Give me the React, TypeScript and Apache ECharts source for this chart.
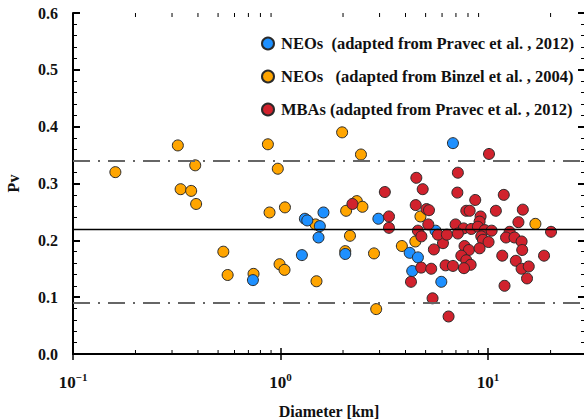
import React, { useEffect, useRef } from "react";
import * as echarts from "echarts";

// NEOs (adapted from Pravec et al., 2012): [diameter km, pV]
const neoPravec: [number, number][] = [
  [1.31, 0.238], [1.345, 0.235], [1.546, 0.225], [1.61, 0.249], [1.524, 0.205],
  [1.267, 0.174], [0.736, 0.13], [2.05, 0.176], [2.96, 0.238], [4.19, 0.178],
  [4.59, 0.17], [4.31, 0.146], [5.95, 0.127], [5.58, 0.217], [6.77, 0.371],
];

// NEOs (adapted from Binzel et al., 2004)
const neoBinzel: [number, number][] = [
  [0.16, 0.32], [0.32, 0.367], [0.388, 0.332], [0.33, 0.29], [0.371, 0.287],
  [0.392, 0.264], [0.869, 0.369], [0.97, 0.326], [0.885, 0.249], [1.05, 0.258],
  [0.53, 0.18], [0.556, 0.139], [0.741, 0.141], [0.989, 0.158], [1.045, 0.148],
  [1.475, 0.228], [1.49, 0.128], [1.98, 0.39], [2.44, 0.351], [2.33, 0.269],
  [2.48, 0.259], [2.07, 0.252], [2.16, 0.208], [2.05, 0.181], [2.82, 0.177],
  [2.89, 0.079], [3.84, 0.19], [4.46, 0.198], [4.72, 0.242], [16.9, 0.229],
];

// MBAs (adapted from Pravec et al., 2012)
const mbaPravec: [number, number][] = [
  [10.1, 0.352], [4.51, 0.31], [3.18, 0.285], [4.84, 0.29], [7.15, 0.319],
  [7.11, 0.284], [11.9, 0.28], [8.67, 0.271], [2.22, 0.264], [3.33, 0.242],
  [3.33, 0.222], [4.48, 0.262], [5.05, 0.255], [5.19, 0.253], [5.15, 0.228],
  [4.59, 0.217], [4.77, 0.207], [5.48, 0.184], [6.06, 0.195], [4.76, 0.152],
  [5.32, 0.15], [4.25, 0.127], [6.24, 0.156], [6.77, 0.155], [5.4, 0.098],
  [6.45, 0.066], [7.85, 0.252], [8.15, 0.252], [10.9, 0.252], [14.7, 0.254],
  [9.2, 0.242], [9.1, 0.233], [6.97, 0.228], [7.62, 0.221], [8.3, 0.22],
  [8.93, 0.224], [9.63, 0.218], [10.4, 0.217], [12.7, 0.215], [14.0, 0.232],
  [5.73, 0.21], [6.33, 0.21], [7.15, 0.212], [9.27, 0.207], [9.44, 0.201],
  [10.05, 0.197], [12.2, 0.205], [13.4, 0.205], [14.5, 0.198], [7.7, 0.19],
  [8.08, 0.183], [9.1, 0.186], [14.6, 0.183], [7.43, 0.173], [11.7, 0.173],
  [7.85, 0.165], [8.24, 0.157], [7.65, 0.151], [13.6, 0.164], [14.5, 0.15],
  [15.7, 0.154], [15.4, 0.133], [12.0, 0.12], [18.6, 0.173], [20.1, 0.215],
];

const meanLine = 0.216;
const boundLines = [0.341, 0.092];

const seriesNames = [
  "NEOs  (adapted from Pravec et al. , 2012)",
  "NEOs   (adapted from Binzel et al. , 2004)",
  "MBAs (adapted from Pravec et al. , 2012)",
];

const xMin = 0.1;
const xMax = 29.3;
const xMinorTicks = [0.2, 0.3, 0.4, 0.5, 0.6, 0.7, 0.8, 0.9, 2, 3, 4, 5, 6, 7, 8, 9, 20];
const yTicks = [0, 0.1, 0.2, 0.3, 0.4, 0.5, 0.6];

const FONT = "Liberation Serif, Times New Roman, serif";

export default function App() {
  const ref = useRef<HTMLDivElement>(null);
  useEffect(() => {
    if (!ref.current) return;
    const chart = echarts.init(ref.current, undefined, { renderer: "svg" });
    const symbolStyle = (color: string) => ({
      color,
      borderColor: "#2a2a2a",
      borderWidth: 1,
      opacity: 1,
    });
    const logFormatter = (v: number) => {
      const e = Math.round(Math.log10(v));
      if (Math.abs(Math.log10(v) - e) > 1e-6) return "";
      const exp = e < 0 ? "\u2212" + Math.abs(e) : String(e);
      return `{b|10}{s|${exp}}`;
    };
    const xAxisCommon = {
      type: "log" as const,
      logBase: 10,
      min: xMin,
      max: xMax,
      axisLine: { show: true, lineStyle: { color: "#000", width: 2 } },
      axisTick: { show: true, inside: true, length: 6, lineStyle: { color: "#000", width: 1.5 } },
      splitLine: { show: false },
      minorTick: { show: false },
    };
    const yAxisCommon = {
      type: "value" as const,
      min: yTicks[0],
      max: yTicks[yTicks.length - 1],
      interval: 0.1,
      axisLine: { show: true, lineStyle: { color: "#000", width: 2 } },
      axisTick: { show: true, inside: true, length: 7, lineStyle: { color: "#000", width: 2 } },
      minorTick: { show: true, splitNumber: 5, length: 4, lineStyle: { color: "#000", width: 1 } },
      splitLine: { show: false },
    };
    chart.setOption({
      animation: false,
      backgroundColor: "#fff",
      textStyle: { fontFamily: FONT },
      grid: { left: 73, right: -1, top: 13, bottom: 66, outerBoundsMode: "none" },
      legend: {
        data: seriesNames,
        orient: "vertical",
        left: 261,
        top: 35,
        padding: 0,
        itemWidth: 12,
        itemHeight: 12,
        itemGap: 16,
        icon: "circle",
        textStyle: { fontFamily: FONT, fontWeight: "bold", fontSize: 16.5, color: "#111", padding: [0, 0, 0, 2] },
      },
      xAxis: [
        {
          ...xAxisCommon,
          position: "bottom",
          name: "Diameter [km]",
          nameLocation: "middle",
          nameGap: 49,
          nameMoveOverlap: false,
          nameTextStyle: { fontFamily: FONT, fontWeight: "bold", fontSize: 16, color: "#111" },
          axisLabel: {
            show: true,
            margin: 28,
            verticalAlign: "middle",
            lineHeight: 20,
            formatter: logFormatter,
            rich: {
              b: { fontFamily: FONT, fontWeight: "bold", fontSize: 17, color: "#111", lineHeight: 20 },
              s: { fontFamily: FONT, fontWeight: "bold", fontSize: 11, color: "#111", lineHeight: 20, padding: [0, 0, 10, 0] },
            },
          },
        },
        { ...xAxisCommon, position: "top", axisLabel: { show: false } },
      ],
      yAxis: [
        {
          ...yAxisCommon,
          position: "left",
          name: "Pv",
          nameLocation: "middle",
          nameRotate: 90,
          nameGap: 52,
          nameTextStyle: { fontFamily: FONT, fontWeight: "bold", fontSize: 16, color: "#111" },
          axisLabel: {
            show: true,
            margin: 15,
            formatter: (v: number) => v.toFixed(1),
            fontFamily: FONT,
            fontWeight: "bold",
            fontSize: 16,
            color: "#111",
          },
        },
        { ...yAxisCommon, position: "right", axisLabel: { show: false } },
      ],
      series: [
        {
          name: seriesNames[1],
          type: "scatter",
          data: neoBinzel,
          symbol: "circle",
          symbolSize: 11,
          itemStyle: symbolStyle("#FFA500"),
          z: 3,
        },
        {
          name: seriesNames[0],
          type: "scatter",
          data: neoPravec,
          symbol: "circle",
          symbolSize: 11,
          itemStyle: symbolStyle("#1E90FF"),
          z: 4,
        },
        {
          name: seriesNames[2],
          type: "scatter",
          data: mbaPravec,
          symbol: "circle",
          symbolSize: 11,
          itemStyle: symbolStyle("#D1222D"),
          z: 5,
          markLine: {
            silent: true,
            symbol: "none",
            label: { show: false },
            z: 6,
            data: [
              { yAxis: meanLine, lineStyle: { color: "#000", width: 1.3, type: "solid" } },
              ...boundLines.map((v) => ({
                yAxis: v,
                lineStyle: { color: "#666", width: 2, type: [17, 8, 2, 8] },
              })),
            ],
          },
        },
        {
          type: "custom",
          silent: true,
          data: xMinorTicks.map((v) => [v, 0]),
          encode: { x: 0, y: 1 },
          z: 7,
          renderItem: (params: any, api: any) => {
            const x = api.coord([api.value(0), 0])[0];
            const cs = params.coordSys;
            const bottom = cs.y + cs.height;
            return {
              type: "group",
              children: [
                { type: "line", shape: { x1: x, y1: bottom, x2: x, y2: bottom - 4 }, style: { stroke: "#000", lineWidth: 1 } },
                { type: "line", shape: { x1: x, y1: cs.y, x2: x, y2: cs.y + 4 }, style: { stroke: "#000", lineWidth: 1 } },
              ],
            };
          },
        },
      ],
    });
    return () => chart.dispose();
  }, []);
  return (
    <div
      ref={ref}
      style={{ position: "fixed", left: 0, top: 0, width: 584, height: 420, background: "#fff" }}
    />
  );
}
